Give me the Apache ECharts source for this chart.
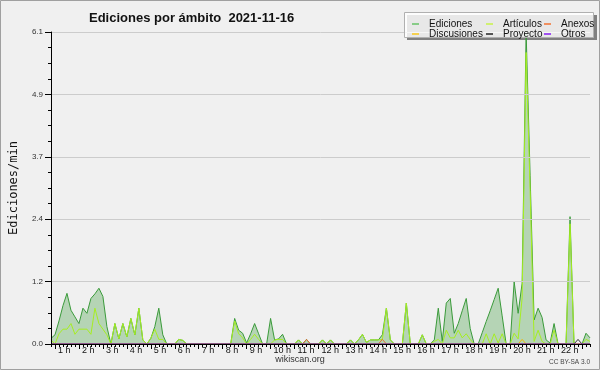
<!DOCTYPE html>
<html><head><meta charset="utf-8">
<script src="https://cdn.jsdelivr.net/npm/echarts@6/dist/echarts.min.js"></script>
<style>html,body{margin:0;padding:0;background:#f0f0f0}#c{width:600px;height:370px}</style>
</head><body><div id="c"></div>
<script>
// time of day in minutes (10-minute samples)
const times = [50,
 60,70,80,90,100,110,
 120,130,140,150,160,170,
 180,190,200,210,220,230,
 240,250,260,270,280,290,
 300,310,320,330,340,350,
 360,370,380,390,400,410,
 420,430,440,450,460,470,
 480,490,500,510,520,530,
 540,550,560,570,580,590,
 600,610,620,630,640,650,
 660,670,680,690,700,710,
 720,730,740,750,760,770,
 780,790,800,810,820,830,
 840,850,860,870,880,890,
 900,910,920,930,940,950,
 960,970,980,990,1000,1010,
 1020,1030,1040,1050,1060,1070,
 1080,1090,1100,1110,1120,1130,
 1140,1150,1160,1170,1180,1190,
 1200,1210,1220,1230,1240,1250,
 1260,1270,1280,1290,1300,1310,
 1320,1330,1340,1350,1360,1370,
 1380,1390,1400];

const ediciones = [0.11,
 0.18,0.45,0.75,0.99,0.66,0.53,
 0.40,0.70,0.60,0.89,0.98,1.09,
 0.93,0.34,0.00,0.40,0.10,0.40,
 0.14,0.50,0.18,0.70,0.08,0.00,
 0.11,0.34,0.70,0.18,0.00,0.00,
 0.00,0.09,0.07,0,0,0,
 0,0,0,0,0,0,
 0,0,0,0.50,0.27,0.21,
 0.02,0.20,0.40,0.20,0,0,
 0.50,0.08,0.10,0.19,0,0,
 0,0.08,0,0.09,0,0,
 0,0.08,0,0.08,0,0,
 0,0,0.08,0,0.08,0.19,
 0.03,0.08,0.08,0.08,0.18,0.70,
 0.08,0,0,0,0.80,0,
 0,0,0.18,0,0,0.08,
 0.70,0.05,0.80,0.89,0.21,0.40,
 0.65,0.89,0.30,0,0,0.22,
 0.44,0.65,0.87,1.09,0.55,0,
 0,1.22,0.60,1.19,6.10,3.30,
 0.47,0.70,0.52,0.08,0.02,0.40,
 0,0,0,2.49,0,0,
 0,0.21,0.12];

const articulos = [0.08,
 0.00,0.20,0.29,0.29,0.40,0.19,
 0.29,0.29,0.29,0.19,0.70,0.40,
 0.29,0.18,0.00,0.40,0.10,0.40,
 0.14,0.50,0.18,0.70,0.08,0.00,
 0.11,0.29,0.09,0.09,0,0,
 0,0.09,0.07,0,0,0,
 0,0,0,0,0,0,
 0,0,0,0.45,0.20,0.12,
 0,0.09,0.19,0.09,0,0,
 0,0.08,0.09,0.09,0,0,
 0,0.08,0,0,0,0,
 0,0.08,0,0.08,0,0,
 0,0,0.08,0,0.08,0.19,
 0.03,0.08,0.08,0.08,0.09,0.70,
 0.08,0,0,0,0.80,0,
 0,0,0.18,0,0,0.05,
 0.09,0,0.27,0.12,0.12,0.27,
 0.12,0.20,0.09,0,0,0,
 0.20,0,0.20,0.02,0.20,0,
 0,0.21,0.10,0.90,5.70,3.00,
 0.05,0.27,0.05,0,0,0.27,
 0,0,0,2.35,0,0,
 0,0.09,0.05];

const anexos = [0,
 0,0,0,0,0,0, 0,0,0,0,0,0, 0,0,0,0,0,0, 0,0,0,0,0,0,
 0,0,0,0,0,0, 0,0,0,0,0,0, 0,0,0,0,0,0, 0,0,0,0,0,0,
 0,0,0,0,0,0, 0,0,0,0,0,0, 0,0,0,0.09,0,0, 0,0,0,0,0,0,
 0,0,0,0,0,0, 0,0,0,0,0.09,0, 0,0,0,0,0,0, 0,0,0,0,0,0,
 0,0,0,0,0,0, 0,0,0,0,0,0, 0,0,0,0,0,0, 0,0,0,0,0,0,
 0,0,0,0,0,0, 0,0,0,0,0,0,
 0,0,0];

const discusiones = [0,
 0,0,0,0,0,0, 0,0,0,0,0,0, 0,0,0,0,0,0, 0,0,0,0,0,0,
 0,0,0,0,0,0, 0,0,0,0,0,0, 0,0,0,0,0,0, 0,0,0,0,0,0,
 0,0,0,0,0,0, 0,0,0,0,0,0, 0,0,0,0,0,0, 0,0,0,0,0,0,
 0,0,0,0,0,0, 0,0,0,0,0,0, 0,0,0,0,0,0, 0,0,0,0,0,0,
 0,0,0,0,0,0, 0,0,0,0,0,0, 0,0,0,0,0,0, 0,0,0,0.09,0,0,
 0,0,0,0,0,0, 0,0,0,0,0,0,
 0,0,0];

const proyecto = [0,
 0,0,0,0,0,0, 0,0,0,0,0,0, 0,0,0,0,0,0, 0,0,0,0,0,0,
 0,0,0,0,0,0, 0,0,0,0,0,0, 0,0,0,0,0,0, 0,0,0,0,0,0,
 0,0,0,0,0,0, 0,0,0,0,0,0, 0,0,0,0,0,0, 0,0,0,0,0,0,
 0,0,0,0,0,0, 0,0,0,0,0,0, 0,0,0,0,0,0, 0,0,0,0,0,0,
 0,0,0,0,0,0, 0,0,0,0,0,0, 0,0,0,0,0,0, 0,0,0,0,0,0,
 0,0,0,0,0,0, 0,0,0,0,0,0.09, 0,0,0,0.09,0,0,
 0,0,0];

const otros = [0,
 0,0,0,0,0,0, 0,0,0,0,0,0, 0,0,0,0,0,0, 0,0,0,0,0,0,
 0,0,0,0,0,0, 0,0,0,0,0,0, 0,0,0,0,0,0, 0,0,0,0,0,0,
 0,0,0,0,0,0, 0,0,0,0,0,0, 0,0,0,0,0,0, 0,0,0,0,0,0,
 0,0,0,0,0,0, 0,0,0,0,0,0, 0,0,0,0,0,0, 0,0,0,0,0,0,
 0,0,0,0,0,0, 0,0,0,0,0,0, 0,0,0,0,0,0, 0,0,0,0,0,0,
 0,0,0,0,0,0, 0,0,0,0,0,0,
 0,0,0];

const hourTicks = [60,120,180,240,300,360,420,480,540,600,660,720,780,840,900,960,1020,1080,1140,1200,1260,1320,1380];
const labelTicks = [60,120,180,240,300,360,420,480,540,600,660,720,780,840,900,960,1020,1080,1140,1200,1260,1320];
const hourLabels = ['1 h','2 h','3 h','4 h','5 h','6 h','7 h','8 h','9 h','10 h','11 h','12 h','13 h','14 h','15 h','16 h','17 h','18 h','19 h','20 h','21 h','22 h'];

const pairs = vals => times.map((t, i) => [t, vals[i]]);
const F = 'Liberation Sans';

const chart = echarts.init(document.getElementById('c'), null, {renderer: 'canvas'});
const lineSeries = (name, vals, color, z) => ({
  name, type: 'line', data: pairs(vals), showSymbol: false, symbol: 'none',
  xAxisIndex: 0, yAxisIndex: 0, z,
  lineStyle: {color, width: 1}, itemStyle: {color}, emphasis: {disabled: true}
});
const legendBase = (left, names, colors) => ({
  orient: 'vertical', left, top: 14, itemGap: 0, itemWidth: 7, itemHeight: 2, icon: 'rect', z: 20,
  selectedMode: false,
  textStyle: {fontFamily: F, fontSize: 10, color: '#111', lineHeight: 10, padding: [0, 0, 0, 5]},
  data: names.map((n, i) => ({name: n, itemStyle: {color: colors[i]}}))
});

chart.setOption({
  animation: false,
  backgroundColor: '#f0f0f0',
  title: {text: 'Ediciones por ámbito  2021-11-16', left: 84, top: 7,
    textStyle: {fontFamily: F, fontWeight: 'bold', fontSize: 13, color: '#111'}},
  grid: {left: 46, right: 10, top: 32, bottom: 26, containLabel: false},
  legend: [
    legendBase(407, ['Ediciones', 'Discusiones'], ['#88cc88', '#f5d050']),
    legendBase(481, ['Artículos', 'Proyecto'], ['#d0f070', '#555555']),
    legendBase(539, ['Anexos', 'Otros'], ['#f09060', '#a050f0'])
  ],
  xAxis: [
    {type: 'value', min: 50, max: 1400, interval: 10, position: 'bottom', z: 6,
      axisLine: {show: true, lineStyle: {color: '#000', width: 1}},
      axisTick: {show: true, length: 3, lineStyle: {color: '#000'}},
      axisLabel: {show: false}, splitLine: {show: false}},
    {type: 'value', min: 50, max: 1400, position: 'bottom', z: 6,
      axisLine: {show: false},
      axisTick: {show: true, length: 5, customValues: hourTicks, lineStyle: {color: '#000'}},
      axisLabel: {show: true, customValues: labelTicks, margin: 2, align: 'left',
        padding: [0, 0, 0, 3], fontFamily: F, fontSize: 9, color: '#111',
        formatter: v => hourLabels[labelTicks.indexOf(v)]},
      splitLine: {show: false}}
  ],
  yAxis: {type: 'value', min: 0, max: 6.1, interval: 1.22, z: 6,
    name: 'Ediciones/min', nameLocation: 'middle', nameGap: 31, nameRotate: 90,
    nameTextStyle: {fontFamily: 'DejaVu Sans Mono', fontSize: 12, color: '#111'},
    axisLine: {show: true, lineStyle: {color: '#000'}},
    axisTick: {show: true, length: 6, lineStyle: {color: '#000'}},
    minorTick: {show: true, splitNumber: 4, length: 3, lineStyle: {color: '#000'}},
    splitLine: {show: true, lineStyle: {color: '#cccccc', width: 1}},
    axisLabel: {margin: 8, fontFamily: F, fontSize: 8, color: '#333', formatter: v => v.toFixed(1)}
  },
  series: [
    Object.assign(lineSeries('Ediciones', ediciones, '#3a9a3a', 2),
      {areaStyle: {color: 'rgba(80,165,80,0.52)'}}),
    lineSeries('Artículos', articulos, '#a6ee22', 3),
    lineSeries('Anexos', anexos, '#e07030', 3),
    lineSeries('Discusiones', discusiones, '#f0b800', 3),
    lineSeries('Proyecto', proyecto, '#333333', 3),
    lineSeries('Otros', otros, '#9040e0', 3)
  ],
  graphic: [
    {type: 'rect', z: 0, silent: true, shape: {x: 0.5, y: 0.5, width: 599, height: 369},
      style: {fill: null, stroke: '#a0a0a0', lineWidth: 1}},
    {type: 'rect', z: 1, silent: true, shape: {x: 407, y: 15, width: 190, height: 25},
      style: {fill: '#808080'}},
    {type: 'rect', z: 10, silent: true, shape: {x: 404.5, y: 12.5, width: 189, height: 25},
      style: {fill: 'rgba(255,255,255,0.82)', stroke: '#b0b0b0', lineWidth: 1}},
    {type: 'text', z: 10, silent: true, left: 'center', top: 355,
      style: {text: 'wikiscan.org', fontFamily: F, fontSize: 9, fill: '#333'}},
    {type: 'text', z: 10, silent: true, right: 10, top: 359,
      style: {text: 'CC BY-SA 3.0', fontFamily: F, fontSize: 6.5, fill: '#444'}}
  ]
});
</script></body></html>
